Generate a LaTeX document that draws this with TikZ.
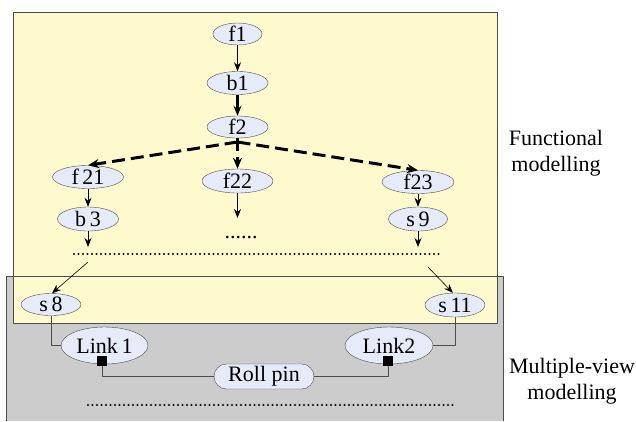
\documentclass[tikz,border=0pt]{standalone}
\usepackage{fontspec}
\setmainfont{Liberation Serif}
\usetikzlibrary{arrows.meta,shapes.geometric,shapes.misc}
\definecolor{funcyellow}{RGB}{255,250,205}
\definecolor{viewgray}{RGB}{204,204,204}
\definecolor{nodeblue}{RGB}{230,235,250}
\begin{document}
\begin{tikzpicture}[x=1pt, y=-1pt, line join=round, font=\fontsize{22}{26}\selectfont,
	>={Stealth[length=9pt,width=7pt]},
	elli/.style={ellipse, draw=black!70, fill=nodeblue, inner sep=0pt, minimum height=23pt},
	pinbox/.style={rounded rectangle, draw=black!70, fill=nodeblue, inner sep=0pt, minimum width=100pt, minimum height=25pt},
	joint/.style={rectangle, fill=black, inner sep=0pt, minimum size=10pt},
	thin/.style={->, line width=0.8pt},
	wire/.style={draw=black!70, line width=0.8pt},
	dotline/.style={line width=2.2pt, line cap=round, dash pattern=on 0pt off 4.5pt},
	heavy/.style={line width=3pt, dash pattern=on 13pt off 6pt, -{Stealth[length=11pt,width=9pt]}}]
	\useasboundingbox (0,0) rectangle (636,421);
	% panels
	\fill[viewgray] (6,276) rectangle (503,421);
	\filldraw[fill=funcyellow, draw=black!70, line width=0.8pt] (13,12) rectangle (497,323);
	\draw[black!70, line width=0.8pt] (6,421) -- (6,276) -- (503,276) -- (503,421);
	\path
	(237.5,142) coordinate (fork)
	(237.5,218) coordinate (F22e)
	(88,247) coordinate (B3e)
	(418,247) coordinate (S9e)
	(74,254) coordinate (D1)
	(440,254) coordinate (D2)
	(88,262) coordinate (L1)
	(428,267) coordinate (L2)
	(88,405) coordinate (E1)
	(455,405) coordinate (E2)
	;
	% functional tree
	\node[elli, minimum width=49pt, minimum height=22pt] (f1) at (237.5,34) {f1};
	\node[elli, minimum width=61pt] (b1) at (237.5,83) {b1};
	\node[elli, minimum width=61pt, minimum height=22pt] (f2) at (237.5,127) {f2};
	\node[elli, minimum width=71pt] (f21) at (88,177) {f\,21};
	\node[elli, minimum width=71pt, minimum height=24pt] (f22) at (237.5,181) {f22};
	\node[elli, minimum width=72pt] (f23) at (418,182) {f23};
	\node[elli, minimum width=61pt, minimum height=24pt] (b3) at (88,219) {b\,3};
	\node[elli, minimum width=59pt, minimum height=24pt] (s9) at (418,219) {s\,9};
	\node[anchor=base] (gap) at (241,238) {......};
	\draw[thin] (f1) -- (b1);
	\draw[->, line width=2.5pt, >={Stealth[length=10pt,width=8pt]}] (b1) -- (f2);
	\draw[heavy] (fork) -- (f21.north);
	\draw[heavy] (fork) -- (f23.north);
	\draw[heavy] (f2.south) -- (f22.north);
	\draw[thin] (f21) -- (b3);
	\draw[thin] (f23) -- (s9);
	\draw[thin] (f22) -- (F22e);
	\draw[thin] (b3) -- (B3e);
	\draw[thin] (s9) -- (S9e);
	\draw[dotline] (D1) -- (D2);
	% multiple-view part
	\node[elli, minimum width=60pt, minimum height=22pt] (s8) at (51,304.5) {s\,8};
	\node[elli, minimum width=60pt, minimum height=24pt] (s11) at (455,305) {s\,11};
	\node[elli, minimum width=87pt, minimum height=37pt] (link1) at (104.5,345.5) {Link\,1};
	\node[elli, minimum width=88pt, minimum height=37pt] (link2) at (389,345.5) {Link2};
	\node[pinbox] (pin) at (264,376.5) {Roll pin};
	\node[joint] (j1) at (102,361) {};
	\node[joint] (j2) at (388,361) {};
	\draw[thin, line width=0.6pt] (L1) -- (s8.85);
	\draw[thin, line width=0.6pt] (L2) -- (s11.100);
	\draw[wire] (s8.south) |- (link1.west);
	\draw[wire] (s11.south) |- (link2.east);
	\draw[wire] (j1.south) |- (pin.west);
	\draw[wire] (j2.south) |- (pin.east);
	\draw[dotline] (E1) -- (E2);
	% labels
	\node[align=center] (func) at (556,153) {Functional\\modelling};
	\node[align=center] (view) at (572,381) {Multiple-view\\modelling};
\end{tikzpicture}
\end{document}
